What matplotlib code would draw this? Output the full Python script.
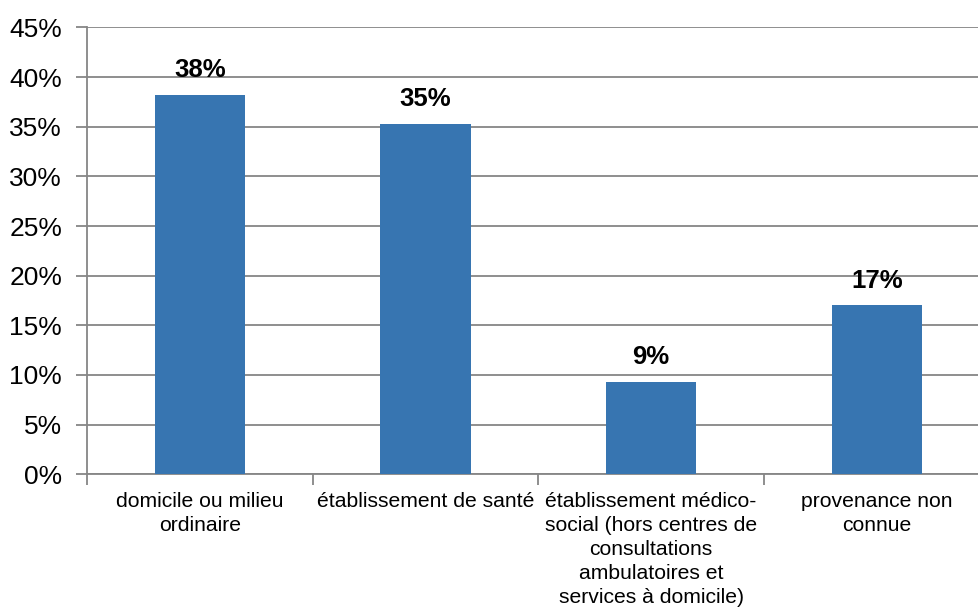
import matplotlib.pyplot as plt
import numpy as np

categories = ['domicile ou milieu\nordinaire',
              'établissement de santé',
              'établissement médico-\nsocial (hors centres de\nconsultations\nambulatoires et\nservices à domicile)',
              'provenance non\nconnue']
values = [38.2, 35.3, 9.3, 17.0]
labels = ['38%', '35%', '9%', '17%']
yticks = [0, 5, 10, 15, 20, 25, 30, 35, 40, 45]

plt.rcParams['font.family'] = ['Liberation Sans', 'DejaVu Sans']

fig = plt.figure(figsize=(9.79, 6.08), dpi=100)
ax = fig.add_axes([0.0889, 0.2199, 0.922, 0.735])

x = np.arange(len(categories))
bars = ax.bar(x, values, width=0.4, color='#3775B1', zorder=3)

for bar, lab in zip(bars, labels):
    ax.annotate(lab, (bar.get_x() + bar.get_width() / 2, bar.get_height()),
                xytext=(0, 9), textcoords='offset points',
                ha='center', va='bottom', fontsize=18.5, fontweight='bold')

ax.set_xlim(-0.5, len(categories) - 0.5)
ax.set_ylim(0, 45)
ax.set_yticks(yticks)
ax.set_yticklabels([f'{t}%' for t in yticks], fontsize=19)
ax.yaxis.grid(True, color='#868686', linewidth=1.3, zorder=0)

# category labels between boundary ticks
ax.set_xticks(np.arange(-0.5, len(categories), 1.0))
ax.set_xticklabels([])
ax.set_xticks(x, minor=True)
ax.set_xticklabels(categories, minor=True, fontsize=15.2, linespacing=1.32, va='top')
ax.tick_params(axis='x', which='minor', length=0, pad=13)
ax.tick_params(axis='x', which='major', length=8, width=1.3, color='#868686', direction='out')
ax.tick_params(axis='y', length=8, width=1.3, color='#868686', direction='out', pad=10)

for side in ['top', 'right']:
    ax.spines[side].set_visible(False)
for side in ['left', 'bottom']:
    ax.spines[side].set_color('#868686')
    ax.spines[side].set_linewidth(1.3)

fig.savefig('out.png', dpi=100)
